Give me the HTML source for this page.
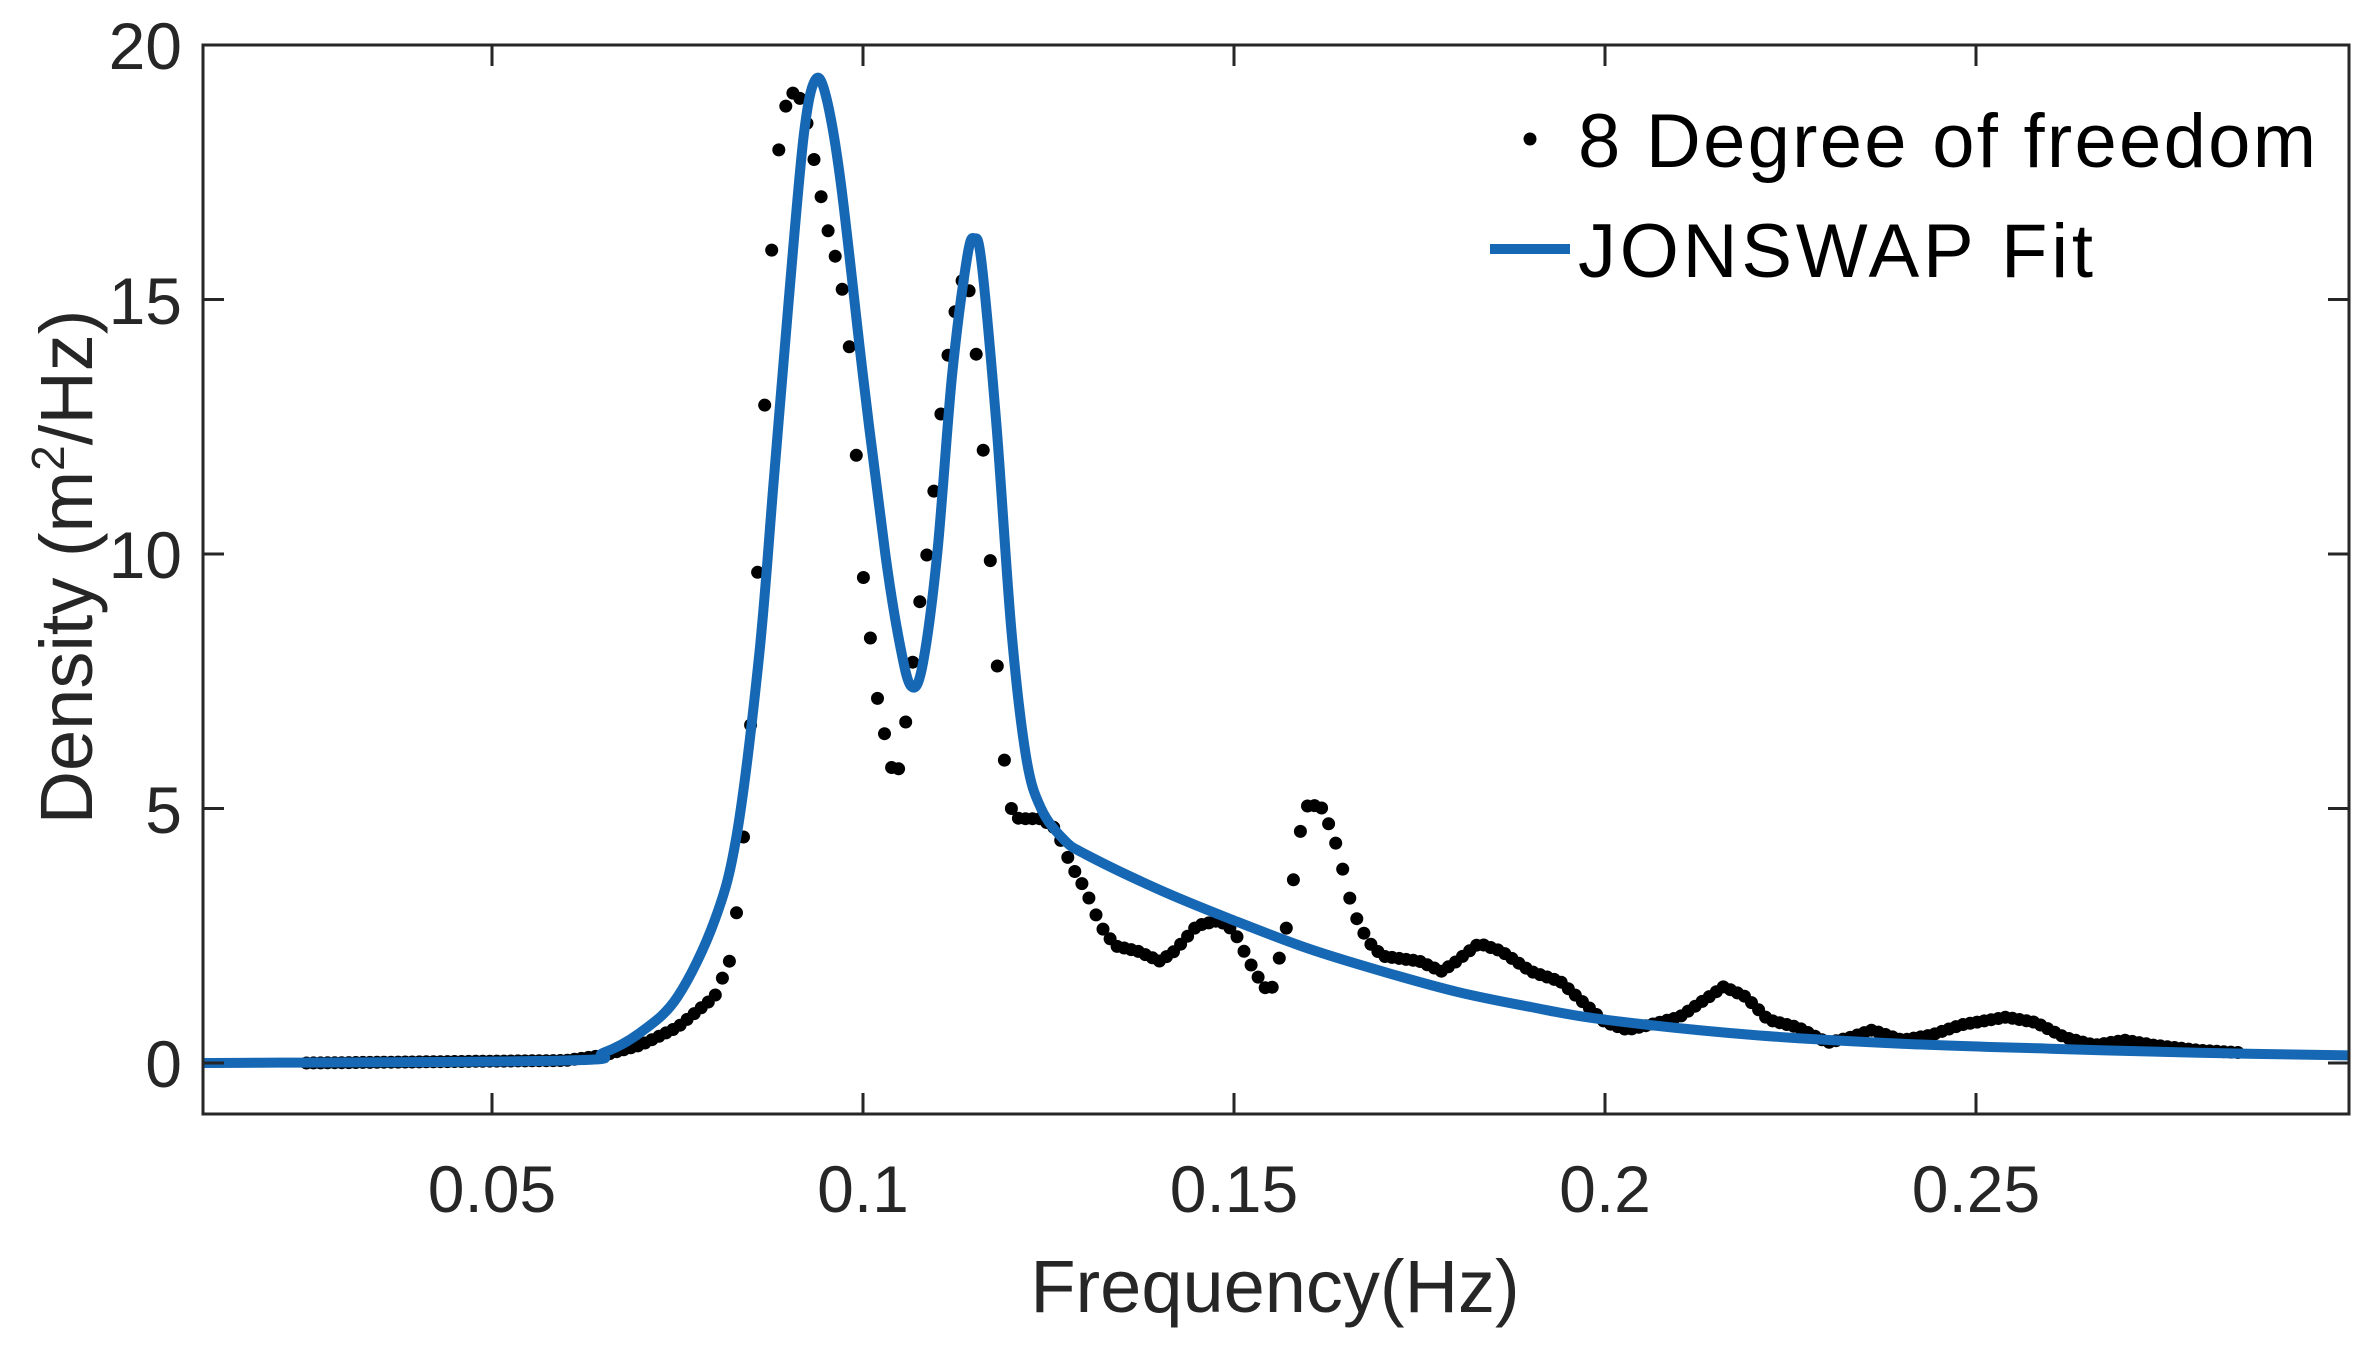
<!DOCTYPE html>
<html><head><meta charset="utf-8"><style>body{margin:0;background:#fff}svg{display:block}</style></head>
<body>
<svg id="s" width="2373" height="1345" xmlns="http://www.w3.org/2000/svg" font-family="Liberation Sans, sans-serif" fill="#262626">
<rect width="2373" height="1345" fill="#fff"/>
<g id="plot"></g>
<rect x="203" y="45" width="2146" height="1069" fill="none" stroke="#262626" stroke-width="3"/>
<g id="ticks" stroke="#262626" stroke-width="3"></g>
<g font-size="66" text-anchor="end">
<text x="182" y="69">20</text><text x="182" y="324">15</text><text x="182" y="578">10</text><text x="182" y="833">5</text><text x="182" y="1087">0</text>
</g>
<g font-size="66" text-anchor="middle" id="xl"></g>
<text x="1275" y="1312" font-size="74" text-anchor="middle">Frequency(Hz)</text>
<text transform="translate(92,567) rotate(-90)" font-size="74" text-anchor="middle">Density (m<tspan font-size="46" dy="-28">2</tspan><tspan dy="28">/Hz)</tspan></text>
<circle cx="1530" cy="139" r="6.5" fill="#000"/>
<text x="1578" y="167" font-size="76" fill="#000" textLength="738">8 Degree of freedom</text>
<line x1="1490" y1="249" x2="1570" y2="249" stroke="#1668b4" stroke-width="10"/>
<text x="1578" y="277" font-size="76" fill="#000" textLength="515">JONSWAP Fit</text>
</svg>
<script>
const X=f=>492+(f-0.05)*7420, Y=v=>1063-v*50.9;
const ns="http://www.w3.org/2000/svg";
const plot=document.getElementById('plot'),tk=document.getElementById('ticks'),xl=document.getElementById('xl');
function el(p,n,a,t){const e=document.createElementNS(ns,n);for(const k in a)e.setAttribute(k,a[k]);if(t)e.textContent=t;p.appendChild(e);return e;}
[0.05,0.1,0.15,0.2,0.25].forEach(f=>{const x=X(f);el(tk,'line',{x1:x,y1:1114,x2:x,y2:1093});el(tk,'line',{x1:x,y1:45,x2:x,y2:66});el(xl,'text',{x:x,y:1212},String(f));});
[0,5,10,15,20].forEach(v=>{const y=Y(v);el(tk,'line',{x1:203,y1:y,x2:224,y2:y});el(tk,'line',{x1:2349,y1:y,x2:2328,y2:y});});
const dp=[[0.025,0],[0.06,0.05],[0.065,0.15],[0.07,0.35],[0.075,0.7],[0.08,1.3],[0.082,2],[0.083,3],[0.084,4.6],[0.085,7],[0.086,10.3],[0.087,13.8],[0.088,16.9],[0.089,18.5],[0.09,19.0],[0.091,19.1],[0.092,18.8],[0.094,17.3],[0.095,16.5],[0.096,16],[0.097,15.4],[0.098,14.4],[0.099,12.2],[0.1,9.6],[0.102,7.1],[0.104,5.7],[0.105,5.8],[0.106,7],[0.108,9.5],[0.109,10.3],[0.11,12],[0.111,13.5],[0.113,15.3],[0.114,15.5],[0.115,14.4],[0.116,12.5],[0.117,10.2],[0.118,8],[0.119,6],[0.12,5],[0.121,4.8],[0.124,4.8],[0.126,4.6],[0.128,3.9],[0.13,3.4],[0.132,2.7],[0.134,2.3],[0.137,2.2],[0.14,2.0],[0.142,2.2],[0.145,2.7],[0.148,2.8],[0.15,2.6],[0.152,2.0],[0.154,1.5],[0.155,1.4],[0.157,2.6],[0.158,3.6],[0.159,4.6],[0.16,5.1],[0.162,5.0],[0.164,4.2],[0.166,3.0],[0.168,2.4],[0.17,2.1],[0.175,2.0],[0.178,1.8],[0.18,2.0],[0.183,2.35],[0.186,2.2],[0.19,1.8],[0.194,1.6],[0.197,1.2],[0.2,0.8],[0.203,0.65],[0.206,0.75],[0.21,0.9],[0.213,1.2],[0.216,1.5],[0.219,1.3],[0.222,0.85],[0.226,0.7],[0.23,0.4],[0.233,0.5],[0.236,0.65],[0.24,0.45],[0.244,0.55],[0.248,0.75],[0.254,0.9],[0.258,0.8],[0.262,0.5],[0.266,0.35],[0.27,0.45],[0.274,0.35],[0.28,0.25],[0.286,0.2]];
function interp(p,f){for(let i=1;i<p.length;i++){if(f<=p[i][0]+1e-9){const a=p[i-1],b=p[i];return a[1]+(b[1]-a[1])*(f-a[0])/(b[0]-a[0]);}}return p[p.length-1][1];}
for(let f=0.025;f<=0.2861;f+=0.00095){el(plot,'circle',{cx:X(f).toFixed(1),cy:Y(interp(dp,f)).toFixed(1),r:6.5,fill:'#000'});}
const bp=[[0.011,0],[0.06,0.05],[0.065,0.2],[0.07,0.6],[0.075,1.3],[0.08,2.8],[0.083,4.5],[0.086,8],[0.088,11.5],[0.09,15],[0.092,18.2],[0.0935,19.3],[0.095,19],[0.097,17.3],[0.1,13.5],[0.103,10],[0.105,8.2],[0.1065,7.4],[0.108,7.8],[0.11,10],[0.112,13.5],[0.114,15.8],[0.115,16.2],[0.116,15.7],[0.118,12.5],[0.12,8.5],[0.122,6],[0.124,5],[0.127,4.4],[0.13,4.1],[0.14,3.4],[0.15,2.8],[0.16,2.25],[0.17,1.8],[0.18,1.4],[0.19,1.1],[0.2,0.85],[0.22,0.55],[0.24,0.38],[0.26,0.28],[0.28,0.2],[0.3003,0.15]];
const P=bp.map(p=>[X(p[0]),Y(p[1])]);
let d='M'+P[0][0].toFixed(1)+','+P[0][1].toFixed(1);
for(let i=0;i<P.length-1;i++){const p0=P[Math.max(0,i-1)],p1=P[i],p2=P[i+1],p3=P[Math.min(P.length-1,i+2)];
const c1=[p1[0]+(p2[0]-p0[0])/6,p1[1]+(p2[1]-p0[1])/6],c2=[p2[0]-(p3[0]-p1[0])/6,p2[1]-(p3[1]-p1[1])/6];
d+=' C'+c1.map(v=>v.toFixed(1)).join(',')+' '+c2.map(v=>v.toFixed(1)).join(',')+' '+p2.map(v=>v.toFixed(1)).join(',');}
el(plot,'path',{d:d,fill:'none',stroke:'#1668b4','stroke-width':10,'stroke-linejoin':'round'});
</script>
</body></html>
